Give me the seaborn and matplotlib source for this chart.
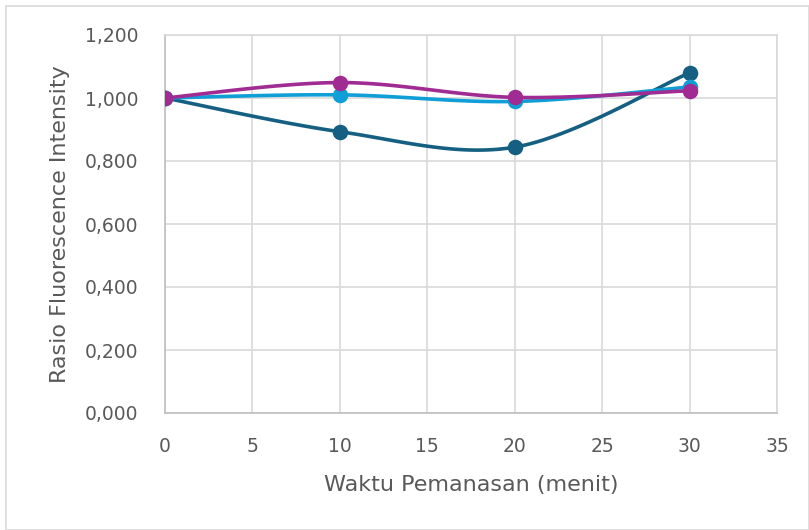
import numpy as np
import pandas as pd
import matplotlib
matplotlib.use("Agg")
import matplotlib.pyplot as plt
import seaborn as sns
from matplotlib.patches import Rectangle

# ---- data ----
waktu = [0, 10, 20, 30]
series_names = ["Seri 1", "Seri 2", "Seri 3"]
seri1 = [1.000, 0.893, 0.844, 1.080]
seri2 = [1.000, 1.010, 0.989, 1.035]
seri3 = [1.000, 1.049, 1.002, 1.023]
colors = ["#156082", "#0F9ED5", "#A02B93"]
x_ticks = [0, 5, 10, 15, 20, 25, 30, 35]
y_ticks = [0.0, 0.2, 0.4, 0.6, 0.8, 1.0, 1.2]
x_label = "Waktu Pemanasan (menit)"
y_label = "Rasio Fluorescence Intensity"


def smooth(xs, ys, n=40):
    """Excel-like smoothed line: Catmull-Rom Bezier through the points."""
    P = np.column_stack([xs, ys]).astype(float)
    ext = np.vstack([P[0], P, P[-1]])
    out = []
    t = np.linspace(0, 1, n)[:, None]
    for i in range(len(P) - 1):
        p0, p3 = P[i], P[i + 1]
        c1 = p0 + (ext[i + 2] - ext[i]) / 6.0
        c2 = p3 - (ext[i + 3] - ext[i + 1]) / 6.0
        seg = ((1 - t) ** 3) * p0 + 3 * ((1 - t) ** 2) * t * c1 + 3 * (1 - t) * t ** 2 * c2 + t ** 3 * p3
        out.append(seg if i == 0 else seg[1:])
    S = np.vstack(out)
    return S[:, 0], S[:, 1]


sns.set_theme(style="white")
font = ["DejaVu Sans"]
plt.rcParams["font.family"] = font
txt = "#595959"

fig = plt.figure(figsize=(8.09, 5.30), dpi=100)
ax = fig.add_axes([165 / 809, 1 - 413 / 530, (777 - 165) / 809, (413 - 35) / 530])

# outer chart border
fig.patches.append(Rectangle((6 / 809, 0.5 / 530), 1 - 6.5 / 809, 1 - 6.5 / 530,
                             transform=fig.transFigure, fill=False,
                             edgecolor="#d9d9d9", linewidth=1.2))

for name, vals, col in zip(series_names, [seri1, seri2, seri3], colors):
    sx, sy = smooth(waktu, vals)
    df_line = pd.DataFrame({"x": sx, "y": sy})
    sns.lineplot(data=df_line, x="x", y="y", ax=ax, color=col, linewidth=2.6,
                 sort=False, estimator=None, zorder=3)
    df_pt = pd.DataFrame({"x": waktu, "y": vals})
    sns.scatterplot(data=df_pt, x="x", y="y", ax=ax, color=col, s=125,
                    edgecolor=col, linewidth=0, zorder=4)

ax.set_xlim(0, 35)
ax.set_ylim(0, 1.2)
ax.set_xticks(x_ticks)
ax.set_yticks(y_ticks)
ax.set_xticklabels([str(v) for v in x_ticks])
ax.set_yticklabels([f"{v:.3f}".replace(".", ",") for v in y_ticks])
ax.grid(True, color="#d9d9d9", linewidth=1.2)
ax.set_axisbelow(True)
for s in ["top", "right"]:
    ax.spines[s].set_color("#d9d9d9")
    ax.spines[s].set_linewidth(1.2)
for s in ["left", "bottom"]:
    ax.spines[s].set_color("#bfbfbf")
    ax.spines[s].set_linewidth(1.2)
ax.tick_params(axis="both", length=0, labelsize=13.5, colors=txt)
ax.tick_params(axis="y", pad=19)
ax.tick_params(axis="x", pad=17)
ax.set_xlabel(x_label, fontsize=16, color=txt, labelpad=14)
ax.set_ylabel(y_label, fontsize=16, color=txt, labelpad=11)

fig.savefig("out.png", dpi=100)
